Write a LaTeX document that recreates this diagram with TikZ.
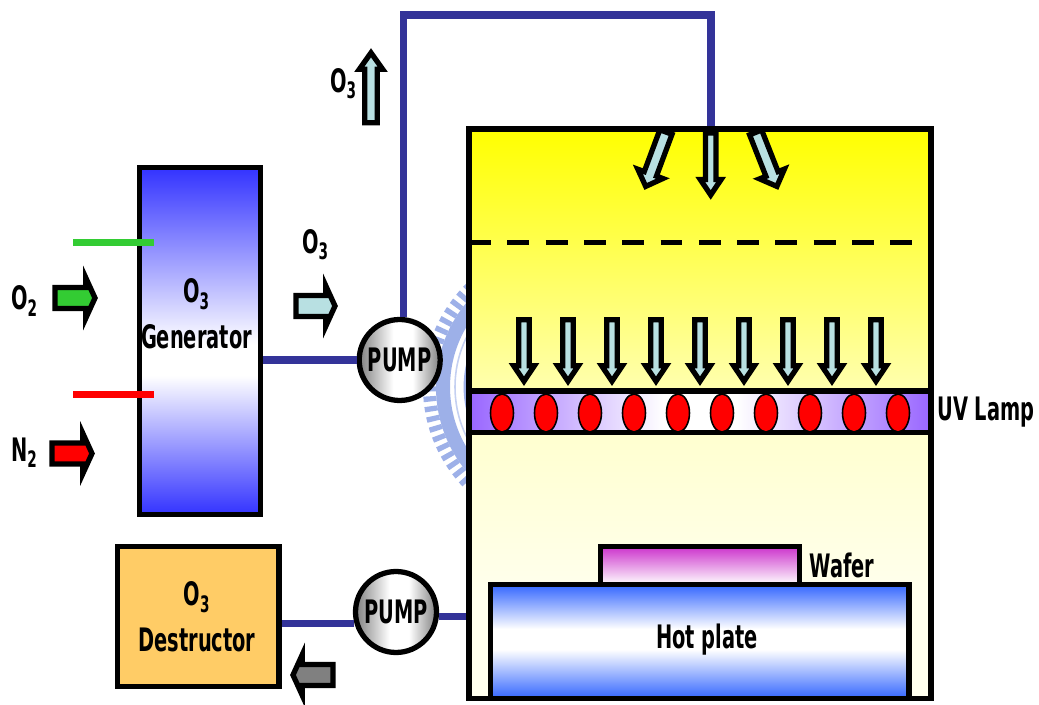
\documentclass[tikz,border=0pt]{standalone}
\usepackage{fontspec}
\newfontfamily\lblfont[FakeStretch=0.6]{DejaVu Sans}
\definecolor{pipeblue}{RGB}{51,51,153}
\definecolor{oxygreen}{RGB}{51,204,51}
\definecolor{gaslight}{RGB}{184,224,226}
\definecolor{genblue}{RGB}{51,51,255}
\definecolor{plateblue}{RGB}{51,102,255}
\definecolor{lamppurple}{RGB}{153,102,255}
\definecolor{waferpink}{RGB}{204,51,204}
\definecolor{destrorange}{RGB}{255,204,102}
\definecolor{chamberhigh}{RGB}{255,255,175}
\definecolor{chamberlow}{RGB}{255,255,208}
\definecolor{chamberpale}{RGB}{255,255,238}
\definecolor{sealblue}{RGB}{157,176,232}
\definecolor{exhaustgray}{RGB}{128,128,128}
\usetikzlibrary{calc,shapes.geometric}
\pgfdeclareverticalshading{chambershade}{100bp}{color(0bp)=(chamberpale); color(33.6bp)=(chamberpale); color(48.1bp)=(chamberlow); color(52.1bp)=(chamberhigh); color(75bp)=(yellow); color(100bp)=(yellow)}
\pgfdeclareverticalshading{genshade}{100bp}{color(0bp)=(genblue); color(25bp)=(genblue); color(45bp)=(white); color(49.5bp)=(white); color(75bp)=(genblue); color(100bp)=(genblue)}
\pgfdeclareverticalshading{plateshade}{100bp}{color(0bp)=(plateblue); color(25bp)=(plateblue); color(46.5bp)=(white); color(55.5bp)=(white); color(75bp)=(plateblue); color(100bp)=(plateblue)}
\pgfdeclarehorizontalshading{lampshade}{100bp}{color(0bp)=(lamppurple); color(25bp)=(lamppurple); color(46bp)=(white); color(54bp)=(white); color(75bp)=(lamppurple); color(100bp)=(lamppurple)}
\pgfdeclarehorizontalshading{pumpshade}{100bp}{color(0bp)=(exhaustgray); color(25bp)=(exhaustgray); color(46bp)=(white); color(58bp)=(white); color(75bp)=(exhaustgray); color(100bp)=(exhaustgray)}
\tikzset{
  lbl/.style={font=\lblfont\bfseries\fontsize{18.4}{20}\selectfont, align=center, inner sep=0pt},
  boxline/.style={draw=black, line width=3pt, inner sep=0pt},
  pumpnode/.style={boxline, circle, minimum size=1.62cm, shading=pumpshade, font=\lblfont\bfseries\fontsize{18.4}{20}\selectfont},
  pipeline/.style={pipeblue, line width=4pt},
  feedline/.style={line width=4pt},
  gasline/.style={draw=black, line width=3pt, line join=miter, miter limit=10}
}
% nose at #1, pointing along angle #2; length #3, shaft half #4, head half #5, head depth #6, fill #7
\newcommand{\gasarrow}[7]{
  \draw[gasline, fill=#7, shift={(#1)}, rotate=#2]
    (0,0) -- (-#6,#5) -- (-#6,#4) -- (-#3,#4) -- (-#3,-#4) -- (-#6,-#4) -- (-#6,-#5) -- cycle;
}
\begin{document}
\begin{tikzpicture}[x=0.02cm, y=-0.02cm]
\useasboundingbox (0,0) rectangle (1039,705);

% --- Seal behind the chamber ---
\draw[sealblue, line width=8pt] (568,387) circle (125);
\draw[sealblue, line width=7.4pt, dash pattern=on 3pt off 2.7pt] (568,387) circle (138.5);
\draw[sealblue!60, line width=0.9pt] (568,387) circle (113);
\draw[sealblue, line width=1.6pt] (568,387) circle (103);

% --- Chamber ---
\node[boxline, minimum width=9.24cm, minimum height=11.39cm, shading=chambershade] (chamber) at (700,413.75) {};
\draw[line width=3pt, dash pattern=on 12.5pt off 9.3pt] (469,242.7) -- (914.3,242.7);

% UV lamp
\node[boxline, minimum width=9.24cm, minimum height=0.83cm, shading=lampshade] (lamp) at (700,411.75) {};
\foreach \i in {0,...,9} {
  \node[draw=black, line width=0.9pt, fill=red, ellipse, minimum width=0.46cm, minimum height=0.76cm, inner sep=0pt] (bulb\i) at (502+44*\i,413) {};
}
\foreach \i in {0,...,8} {
  \gasarrow{524+44*\i,381.2}{-90}{61.5}{5.3}{10.4}{15.5}{gaslight}
}

% Wafer and hot plate
\node[boxline, minimum width=3.97cm, minimum height=0.76cm, top color=waferpink, bottom color=white] (wafer) at (699.9,565.6) {};
\node[boxline, minimum width=8.37cm, minimum height=2.28cm, shading=plateshade] (plate) at (699.9,641.5) {};
\node[lbl] (platelbl) at (707,640) {Hot plate};
\node[lbl] (waferlbl) at (842,565) {Wafer};
\node[lbl] (lamplbl) at (986,412.5) {UV Lamp};

% --- Generator side ---
\node[boxline, minimum width=2.43cm, minimum height=6.94cm, shading=genshade] (gen) at (200,341) {};
\node[lbl] (genlbl) at (196.5,314) {O\textsubscript{3}\\[6pt]Generator};
\coordinate (oxystart) at (73,242.7);
\coordinate (oxyend) at (154,242.7);
\coordinate (nitrostart) at (73,394.7);
\coordinate (nitroend) at (154,394.7);
\draw[feedline, oxygreen] (oxystart) -- (oxyend);
\draw[feedline, red] (nitrostart) -- (nitroend);
\node[lbl] (oxylbl) at (24.5,301) {O\textsubscript{2}};
\node[lbl] (nitrolbl) at (24.5,453) {N\textsubscript{2}};
\gasarrow{95,298}{0}{40}{10.5}{20.3}{9.25}{oxygreen}
\gasarrow{92,453.5}{0}{40}{10.5}{20.3}{9.25}{red}
\node[lbl] (genoutlbl) at (315.5,244.5) {O\textsubscript{3}};
\gasarrow{335,306}{0}{39}{10.5}{20.3}{9.25}{gaslight}

% --- Pumps and pipes ---
\node[pumpnode] (pumpa) at (399.7,360) {PUMP};
\node[pumpnode] (pumpb) at (396,612) {PUMP};
\coordinate (topbend) at (711,15);
\draw[pipeline] (pumpa.west) -- (pumpa.west -| gen.east);
\draw[pipeline] (pumpa.85) |- (topbend) -- (chamber.north -| topbend);
\node[lbl] (uplbl) at (343.5,83.5) {O\textsubscript{3}};
\gasarrow{371,52.8}{90}{70}{6.2}{11.7}{16.5}{gaslight}

% Shower arrows
\gasarrow{710.7,195}{-90}{62}{5.3}{10.4}{15.5}{gaslight}
\gasarrow{645.7,186.4}{-110.4}{58}{6.5}{13.35}{13.35}{gaslight}
\gasarrow{776.9,186.4}{-68.5}{58}{6.5}{13.35}{13.35}{gaslight}

% --- Destructor side ---
\node[boxline, minimum width=3.23cm, minimum height=2.8cm, fill=destrorange] (destr) at (198.3,616.6) {};
\node[lbl] (destrlbl) at (197,617) {O\textsubscript{3}\\[6pt]Destructor};
\draw[pipeline] (pumpb.195) -- (pumpb.195 -| destr.east);
\draw[pipeline] (pumpb.-6) -- (pumpb.-6 -| chamber.west);
\gasarrow{293,675}{180}{40}{10.5}{20.3}{9.25}{exhaustgray}

\end{tikzpicture}
\end{document}
